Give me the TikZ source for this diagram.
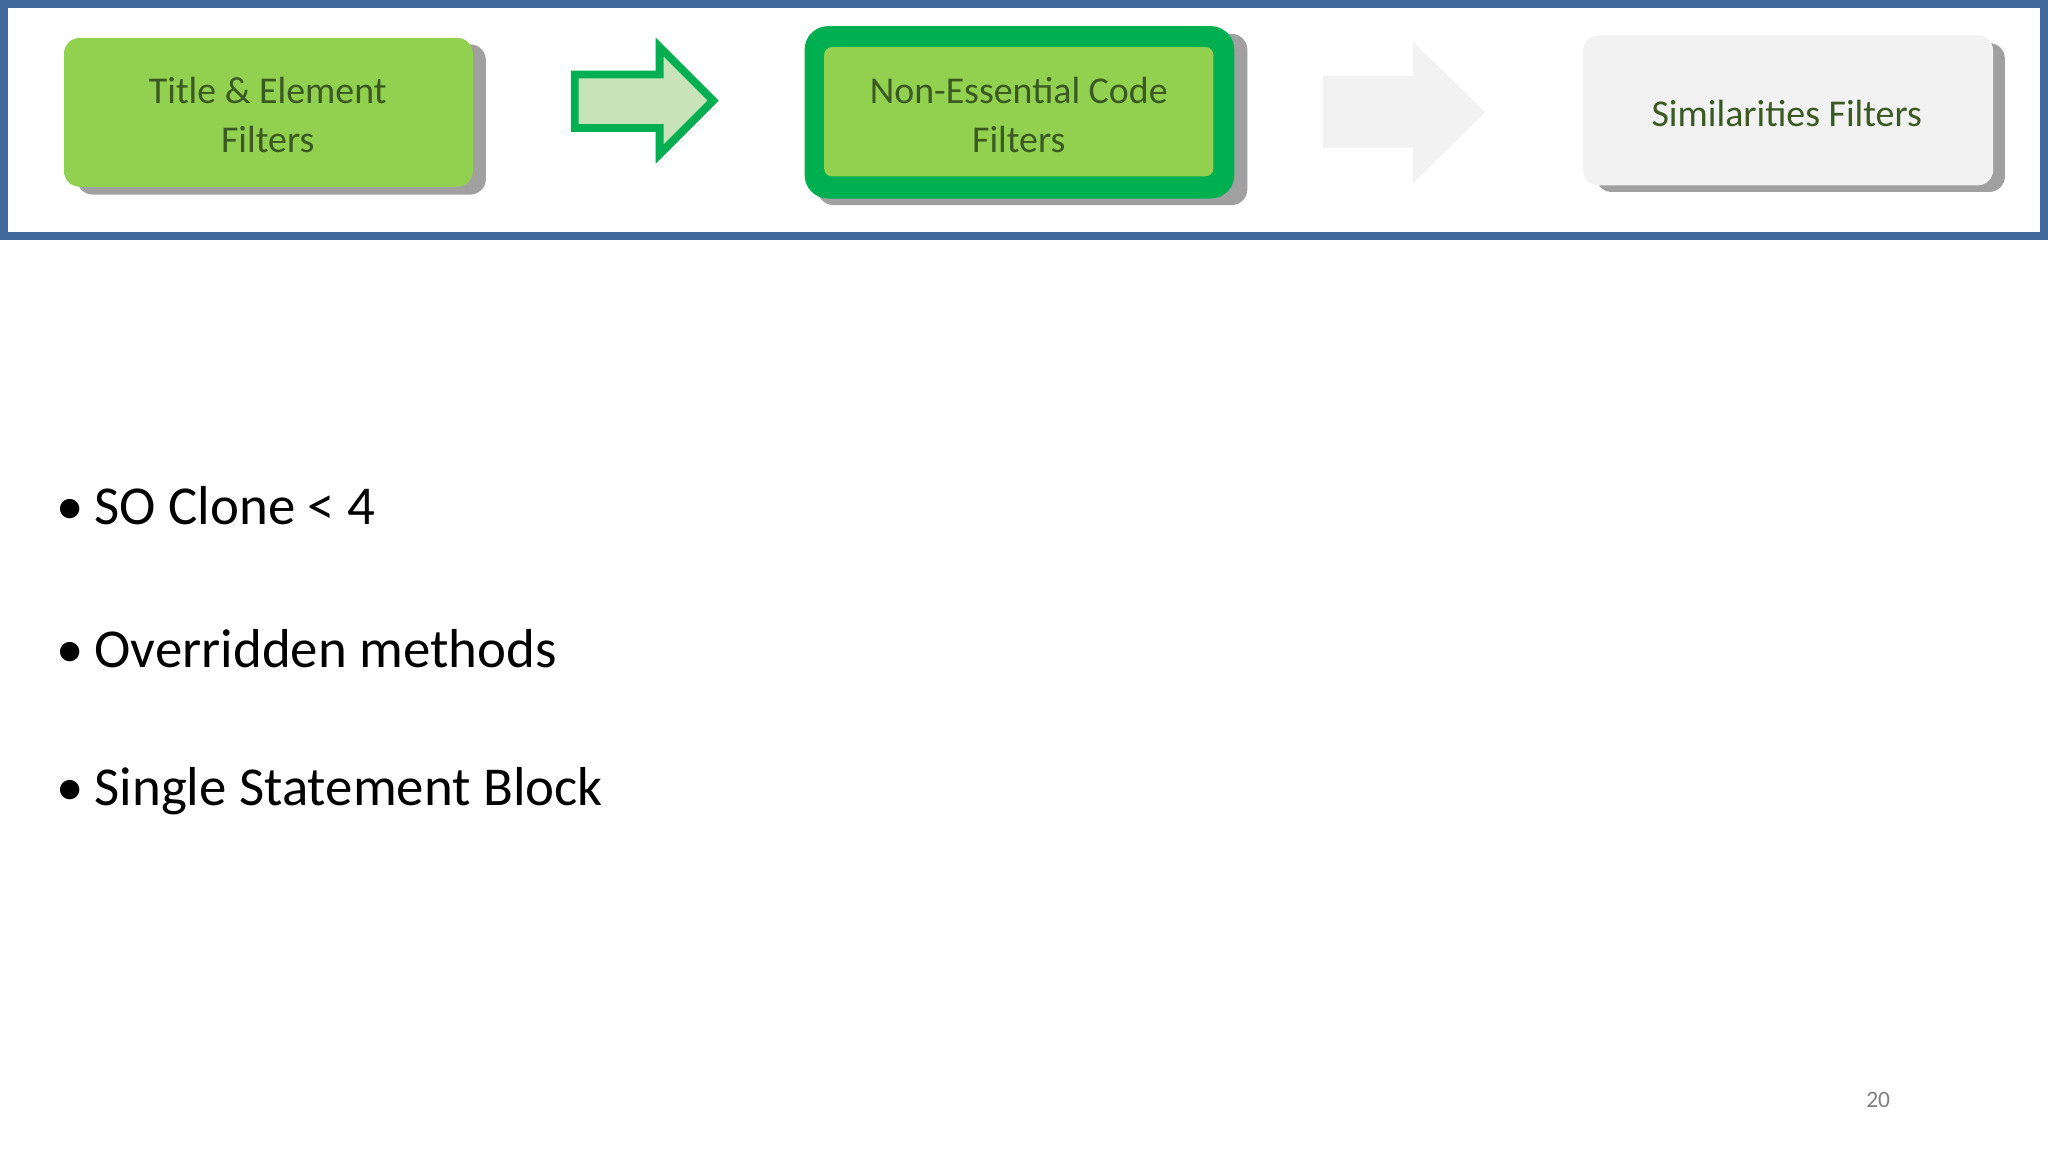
\documentclass[tikz,border=0pt]{standalone}
\usepackage{fontspec}
\setmainfont{Carlito}
\definecolor{frameblue}{HTML}{41689A}
\definecolor{lgreen}{HTML}{92D050}
\definecolor{dgreen}{HTML}{00B050}
\definecolor{txtgreen}{HTML}{3A5A22}
\definecolor{pale}{HTML}{F2F2F2}
\definecolor{paleg}{HTML}{C8E3B8}
\definecolor{shad}{HTML}{A0A0A0}
\begin{document}
\begin{tikzpicture}[x=1pt,y=-1pt,
  boxtxt/.style={font=\fontsize{29}{38}\selectfont,text=txtgreen,align=center},
  bul/.style={font=\fontsize{42}{50}\selectfont,anchor=west},
  rr/.style={rounded corners=12pt}]
\useasboundingbox (0,0) rectangle (1568,882);
\fill[white] (0,0) rectangle (1568,882);
\draw[frameblue,line width=6pt] (3,3) rectangle (1565,181);
% box 1
\fill[shad,rr] (59,34) rectangle (372,149);
\fill[lgreen,rr] (49,29) rectangle (362,143);
\node[boxtxt] (b1) at (205,88) {Title \& Element\\Filters};
% arrow 1
\draw[dgreen,line width=6pt,fill=paleg] (440,57) -- (505,57) -- (505,36) -- (546,77) -- (505,118) -- (505,98) -- (440,98) -- cycle;
% box 2
\fill[shad,rr] (626,26) rectangle (955,157);
\fill[dgreen,rounded corners=18pt] (616,20) rectangle (945,152);
\fill[lgreen,rounded corners=6pt] (631,36) rectangle (929,135);
\node[boxtxt] (b2) at (780,88) {Non-Essential Code\\Filters};
% arrow 2
\fill[pale] (1013,58) -- (1082,58) -- (1082,32) -- (1137,86) -- (1082,140) -- (1082,113) -- (1013,113) -- cycle;
% box 3
\fill[shad,rr] (1222,33) rectangle (1535,147);
\fill[pale,rr] (1212,27) rectangle (1526,142);
\node[boxtxt] (b3) at (1368,87) {Similarities Filters};
% bullets
\node[bul] (l1) at (40,387) {\textbullet\hspace{8pt}SO Clone < 4};
\node[bul] (l2) at (40,497) {\textbullet\hspace{8pt}Overridden methods};
\node[bul] (l3) at (40,606) {\textbullet\hspace{8pt}Single Statement Block};
\node[font=\fontsize{18}{20}\selectfont,text=gray] (pn) at (1438,842) {20};
\end{tikzpicture}
\end{document}
